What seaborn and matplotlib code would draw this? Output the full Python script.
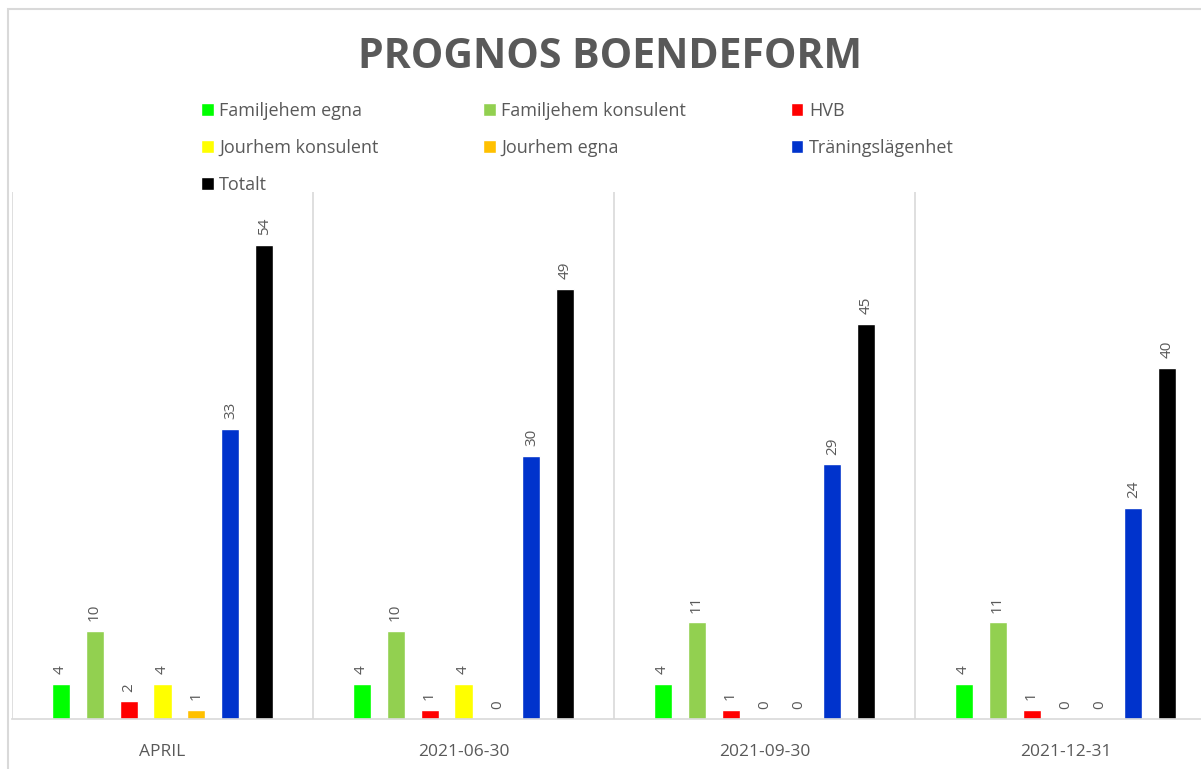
import matplotlib.pyplot as plt
import pandas as pd
import seaborn as sns
from matplotlib.patches import Rectangle

categories = ["APRIL", "2021-06-30", "2021-09-30", "2021-12-31"]
series_names = [
    "Familjehem egna",
    "Familjehem konsulent",
    "HVB",
    "Jourhem konsulent",
    "Jourhem egna",
    "Träningslägenhet",
    "Totalt",
]
familjehem_egna = [4, 4, 4, 4]
familjehem_konsulent = [10, 10, 11, 11]
hvb = [2, 1, 1, 1]
jourhem_konsulent = [4, 4, 0, 0]
jourhem_egna = [1, 0, 0, 0]
traningslagenhet = [33, 30, 29, 24]
totalt = [54, 49, 45, 40]
colors = ["#00FF00", "#92D050", "#FF0000", "#FFFF00", "#FFC000", "#0033CC", "#000000"]

values = [familjehem_egna, familjehem_konsulent, hvb, jourhem_konsulent,
          jourhem_egna, traningslagenhet, totalt]
rows = []
for name, vals in zip(series_names, values):
    for cat, v in zip(categories, vals):
        rows.append({"Period": cat, "Boendeform": name, "Antal": v})
df = pd.DataFrame(rows)

sns.set_theme(style="white")
plt.rcParams["font.family"] = ["Open Sans", "DejaVu Sans"]
text_gray = "#595959"
line_gray = "#d9d9d9"

fig = plt.figure(figsize=(12.01, 7.69), dpi=100)
ax = fig.add_axes([12 / 1201, 1 - 719 / 769, 1204 / 1201, 527 / 769])

sns.barplot(data=df, x="Period", y="Antal", hue="Boendeform", order=categories,
            hue_order=series_names, palette=colors, width=0.79, gap=0.47,
            saturation=1, ax=ax)

for cont in ax.containers:
    ax.bar_label(cont, fmt="%d", rotation=90, padding=7, fontsize=11, color=text_gray)

ax.set_ylim(0, 60)
ax.set_xlim(-0.5, 3.5)
ax.set_yticks([])
ax.set_xlabel("")
ax.set_ylabel("")
ax.set_xticks([-0.5, 0.5, 1.5, 2.5, 3.5], minor=True)
ax.grid(axis="x", which="minor", color=line_gray, linewidth=1.2)
ax.tick_params(axis="x", which="both", length=0, pad=18, labelsize=12.5, labelcolor=text_gray)
sns.despine(ax=ax, left=True, top=True, right=True)
ax.spines["bottom"].set_color(line_gray)
ax.spines["bottom"].set_linewidth(1.2)

handles, labels = ax.get_legend_handles_labels()
ax.get_legend().remove()
order = [0, 3, 6, 1, 4, 2, 5]
leg = fig.legend([handles[i] for i in order], [labels[i] for i in order], ncol=3,
                 loc="upper left", bbox_to_anchor=(201 / 1201, 1 - 102 / 769),
                 frameon=False, fontsize=13, handlelength=0.7, handleheight=0.7,
                 handletextpad=0.3, labelspacing=1.05, columnspacing=5.8,
                 borderaxespad=0, borderpad=0)
for t in leg.get_texts():
    t.set_color(text_gray)

fig.text(0.508, 1 - 58 / 769, "PROGNOS BOENDEFORM", ha="center", va="center",
         fontsize=29.5, fontweight="bold", color=text_gray)

fig.patches.append(Rectangle((8 / 1201, -0.05), 1.1, 1 - 9 / 769 + 0.05,
                             transform=fig.transFigure, fill=False,
                             edgecolor=line_gray, linewidth=1.5))

fig.savefig("out.png", dpi=100, facecolor="white")
